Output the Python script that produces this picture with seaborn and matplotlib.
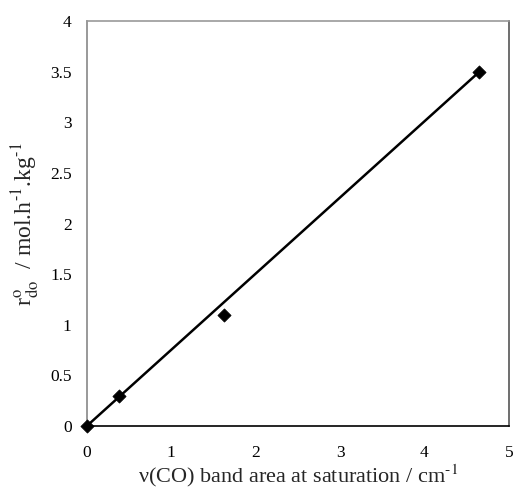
import matplotlib
matplotlib.use("Agg")
import matplotlib.pyplot as plt
import seaborn as sns
import pandas as pd

# Measured initial rates against the saturated CO band area
band_area = [0.0, 0.38, 1.63, 4.65]
rate = [0.0, 0.30, 1.10, 3.50]

# Linear fit drawn through the origin up to the last measurement
fit_x = [0.0, 4.65]
fit_y = [0.0, 3.50]

x_ticks = [0, 1, 2, 3, 4, 5]
y_ticks = [0, 0.5, 1, 1.5, 2, 2.5, 3, 3.5, 4]
y_tick_labels = ["0", "0.5", "1", "1.5", "2", "2.5", "3", "3.5", "4"]

sns.set_theme(style="white")
plt.rcParams["font.family"] = ["Liberation Serif", "DejaVu Serif"]
plt.rcParams["mathtext.fontset"] = "stix"

points = pd.DataFrame({"area": band_area, "rate": rate})
fit = pd.DataFrame({"area": fit_x, "rate": fit_y})

fig = plt.figure(figsize=(5.14, 4.93), dpi=100)
ax = fig.add_axes([0.169, 0.136, 0.821, 0.821])

sns.lineplot(data=fit, x="area", y="rate", ax=ax, color="black", lw=1.8)
sns.scatterplot(data=points, x="area", y="rate", ax=ax, marker="D",
                color="black", s=45, edgecolor="black", zorder=5, clip_on=False)

ax.set_xlim(0, 5)
ax.set_ylim(0, 4)
ax.set_xticks(x_ticks)
ax.set_xticklabels([str(t) for t in x_ticks])
ax.set_yticks(y_ticks)
ax.set_yticklabels(y_tick_labels)

ax.tick_params(axis="both", which="major", labelsize=12.5, colors="black",
               direction="out", width=0.8)
ax.tick_params(axis="y", color="#888888", length=4, pad=7)
ax.tick_params(axis="x", color="#aaaaaa", length=3, pad=11)

ax.spines["left"].set_color("#888888")
ax.spines["top"].set_color("#999999")
ax.spines["right"].set_color("#555555")
ax.spines["bottom"].set_color("black")
for s in ax.spines.values():
    s.set_linewidth(1.2)

ax.set_xlabel(r"ν(CO) band area at saturation / cm$^{\mathrm{‐1}}$", fontsize=16, labelpad=1)
ax.set_ylabel(r"r$^{\mathrm{o}}_{\mathrm{do}}$  / mol.h$^{\mathrm{‐1}}$.kg$^{\mathrm{‐1}}$",
              fontsize=17, labelpad=6)

fig.savefig("out.png", dpi=100, facecolor="white")
